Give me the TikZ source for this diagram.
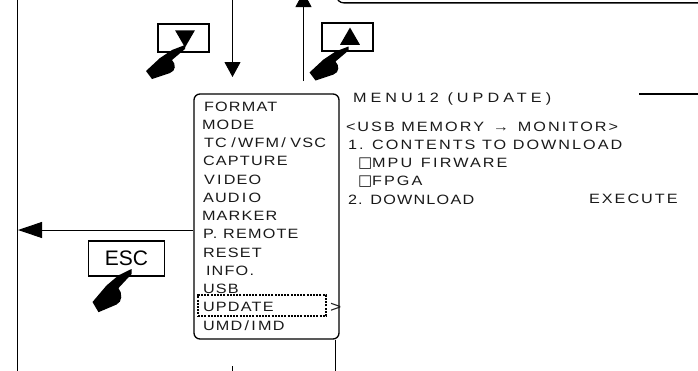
\documentclass[tikz,border=0pt]{standalone}
\usepackage{fontspec}
\usepackage{xcolor}
\setmainfont{Liberation Sans}
\newfontfamily\menufont[FakeStretch=1.2,LetterSpace=9]{Liberation Sans}
\newfontfamily\widefont[FakeStretch=1.2,LetterSpace=15]{Liberation Sans}
\newfontfamily\titlefont[FakeStretch=1.2,LetterSpace=30]{Liberation Sans}
\newfontfamily\symfont{DejaVu Sans}
\newcommand{\optbox}{{\symfont\fontsize{15}{15}\selectfont □}}
\usetikzlibrary{arrows.meta,positioning,shapes.geometric}
\tikzset{
  btnbox/.style={draw,line width=1.1pt,inner sep=0pt},
  btntri/.style={regular polygon,regular polygon sides=3,fill=black,inner sep=0pt,minimum size=23pt},
  menuitem/.style={inner sep=0pt,outer sep=0pt,font=\menufont\fontsize{13.5}{15}\selectfont,text=black!90,
    minimum height=18.25pt,text height=10pt,text depth=0pt},
  wideitem/.style={menuitem,font=\widefont\fontsize{13.5}{15}\selectfont},
  rule/.style={line width=1.3pt},
  bigflow/.style={-{Triangle[length=15pt,width=16pt]},line width=1pt},
  escflow/.style={-{Triangle[length=24pt,width=16pt]},line width=1pt},
  pics/hand/.style={code={
    \fill (0,0) -- (-13,5) -- (-25,13) -- (-39,26) -- (-33,34) -- (-15,28)
      .. controls (-9,26) and (-9,19) .. (-13,15) -- (0,4) -- cycle;
  }},
}
\begin{document}
\begin{tikzpicture}[x=1pt,y=-1pt]
\useasboundingbox (0,0) rectangle (698,370);
\clip (0,0) rectangle (698,370);
% frame lines
\coordinate (lefttop) at (17.5,-5);
\coordinate (leftbot) at (17.5,375);
\draw[rule] (lefttop) -- (leftbot);
\node[draw,rule,rounded corners=7pt,minimum width=400pt,minimum height=60pt,anchor=south west] (topbox) at (336,3.5) {};
\coordinate (rtstart) at (639,94);
\coordinate (rtend) at (705,94);
\draw[rule] (rtstart) -- (rtend);
% buttons
\node[btnbox,minimum width=51pt,minimum height=28pt] (downbtn) at (183.5,38) {};
\node[btntri,shape border rotate=180] (downtri) at (185,36) {};
\node[btnbox,minimum width=51pt,minimum height=28pt] (upbtn) at (347.5,37) {};
\node[btntri] (uptri) at (350,39) {};
\node[btnbox,minimum width=76pt,minimum height=35pt,font=\fontsize{21}{24}\selectfont] (esc) at (126.5,258.5) {ESC};
\pic at (185,45) {hand};
\pic at (348.5,46.5) {hand};
\pic[yscale=1.27] at (131.5,269) {hand};
% menu
\node[draw,rule,rounded corners=6pt,minimum width=145pt,minimum height=245pt] (menu) at (266.5,216.5) {};
\node[menuitem,anchor=west] (fmt) at (204,106) {FORMAT};
\node[menuitem,below right=0pt and -2pt of fmt.south west] (mode) {MODE};
\node[menuitem,below right=0pt and 2pt of mode.south west] (tc) {TC\,\,/\,WFM\,/\,\,VSC};
\node[menuitem,below right=0pt and -1pt of tc.south west] (capt) {CAPTURE};
\node[menuitem,below right=0pt and 1pt of capt.south west] (vid) {V\,I\,DEO};
\node[menuitem,below right=0pt and -1pt of vid.south west] (aud) {AUD\,I\,O};
\node[menuitem,below right=0pt and -1pt of aud.south west] (mark) {MARKER};
\node[menuitem,below right=0pt and 1pt of mark.south west] (prem) {P. REMOTE};
\node[menuitem,below right=0pt and 0pt of prem.south west] (rst) {RESET};
\node[menuitem,below right=0pt and 3pt of rst.south west] (info) {INFO.};
\node[menuitem,below right=0pt and -3pt of info.south west] (usb) {USB};
\node[menuitem,below right=0pt and 0pt of usb.south west] (upd) {UPDATE};
\node[menuitem,below right=0pt and 0pt of upd.south west] (umd) {UMD\,/\,I\,MD};
\node[draw,line width=1.6pt,dash pattern=on 2pt off 1.2pt,minimum width=128pt,minimum height=21pt,inner sep=0pt] (sel) at (262,305.5) {};
\node[menuitem,anchor=west,font=\menufont\fontsize{16}{18}\selectfont] (more) at (330,307) {>};
% right panel
\node[menuitem,anchor=west,font=\titlefont\fontsize{13.5}{15}\selectfont] (title) at (353,97) {MENU12 (UPDATE)};
\node[wideitem,anchor=west] (dir) at (346,126) {<USB MEMORY \,→\, MON\,I\,TOR>};
\node[wideitem,below right=0pt and 2pt of dir.south west] (cont) {1. CONTENTS TO DOWNLOAD};
\node[wideitem,below right=0pt and 10pt of cont.south west] (mpu) {\optbox MPU\, F\,I\,RWARE};
\node[wideitem,below right=0pt and 0pt of mpu.south west] (fpga) {\optbox FPGA};
\node[menuitem,below right=0pt and -10pt of fpga.south west] (dl) {2. DOWNLOAD};
\node[wideitem,anchor=west] (exec) at (589,198) {EXECUTE};
% connectors
\coordinate (downstart) at (232.5,-5);
\coordinate (downend) at (232.5,77);
\draw[bigflow] (downstart) -- (downend);
\coordinate (upstart) at (303.5,81);
\coordinate (upend) at (303.5,-8);
\draw[bigflow] (upstart) -- (upend);
\coordinate (escend) at (18,230);
\draw[escflow] (menu.west |- escend) -- (escend);
\coordinate (menuout) at (335.5,375);
\draw[rule] (menu.south -| menuout) -- (menuout);
\coordinate (ticktop) at (232.5,366);
\coordinate (tickbot) at (232.5,375);
\draw[line width=0.8pt] (ticktop) -- (tickbot);
\end{tikzpicture}
\end{document}
